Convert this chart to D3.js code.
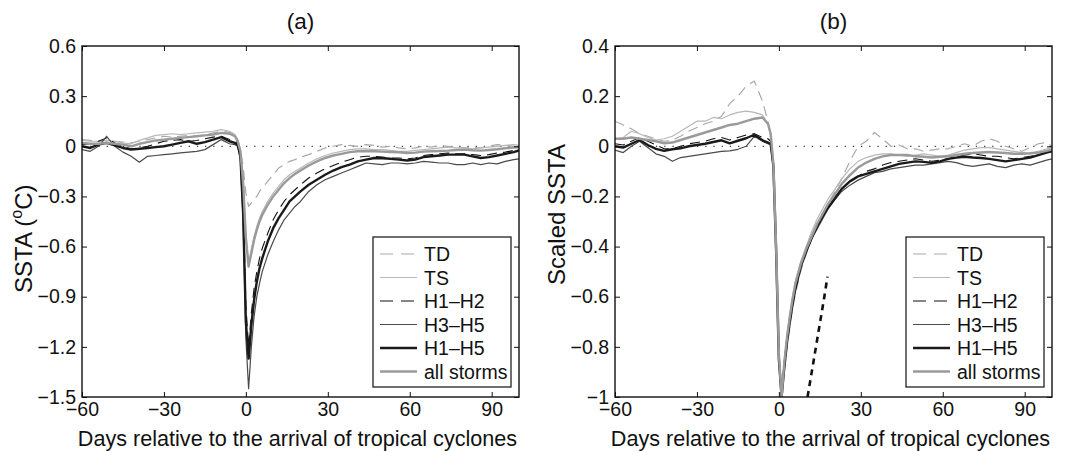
<!DOCTYPE html>
<html>
<head>
<meta charset="utf-8">
<script src="https://cdn.jsdelivr.net/npm/d3@7"></script>
<style>
body { margin: 0; background: #fff; }
svg text { font-family: "Liberation Sans", Arial, Helvetica, sans-serif; fill: #111; }
</style>
</head>
<body>
<svg id="chart" width="1066" height="451"></svg>
<script>
// days relative to storm arrival (shared by every series)
const days = [-60,-57,-54,-51,-48,-45,-42,-39,-36,-33,-30,-27,-24,-21,-18,-15,-12,-9,-6,
  -4,-3,-2,-1,0,1,2,3,4,5,6,
  8,10,12,14,16,18,20,
  23,26,29,32,35,38,41,44,47,50,53,56,59,62,65,68,71,74,77,80,83,86,89,92,95,98,100];

// panel (a): SSTA in degC
const tdA = [0.04,0.035,0.03,0.035,0.03,0.025,0.02,0.03,0.04,0.05,0.06,0.055,0.06,0.065,0.06,0.07,0.08,0.09,0.085,
  0.07,0.04,-0.02,-0.12,-0.28,-0.36,-0.34,-0.32,-0.3,-0.27,-0.25,
  -0.21,-0.17,-0.13,-0.11,-0.09,-0.08,-0.065,
  -0.05,-0.03,-0.01,0.0,0.01,0.005,0.0,0.01,0.005,-0.005,0.0,-0.01,-0.015,-0.01,0.0,-0.005,0.005,0.0,-0.005,-0.01,-0.005,-0.01,0.0,0.01,0.005,0.0,-0.005];
const tsA = [0.035,0.03,0.03,0.035,0.03,0.02,0.015,0.035,0.05,0.065,0.07,0.075,0.07,0.075,0.08,0.085,0.09,0.1,0.09,
  0.07,0.04,-0.02,-0.2,-0.52,-0.7,-0.62,-0.54,-0.48,-0.43,-0.39,
  -0.33,-0.28,-0.24,-0.2,-0.17,-0.15,-0.13,
  -0.1,-0.075,-0.055,-0.04,-0.03,-0.02,-0.015,-0.015,-0.02,-0.02,-0.025,-0.03,-0.03,-0.025,-0.02,-0.015,-0.01,-0.005,-0.01,-0.01,-0.015,-0.01,-0.005,0.0,0.005,0.01,0.005];
const h12A = [0.01,0.015,0.03,0.05,0.02,0.0,-0.015,-0.01,0.0,0.015,0.03,0.035,0.04,0.03,0.035,0.045,0.055,0.06,0.04,
  0.03,0.02,-0.05,-0.35,-0.95,-1.2,-1.0,-0.85,-0.75,-0.67,-0.61,
  -0.52,-0.44,-0.38,-0.33,-0.29,-0.26,-0.23,
  -0.19,-0.16,-0.135,-0.115,-0.095,-0.08,-0.065,-0.06,-0.06,-0.065,-0.07,-0.07,-0.075,-0.07,-0.055,-0.05,-0.045,-0.04,-0.045,-0.045,-0.05,-0.055,-0.05,-0.04,-0.035,-0.025,-0.02];
const h35A = [-0.02,-0.03,0.0,0.06,0.0,-0.035,-0.06,-0.095,-0.06,-0.055,-0.05,-0.045,-0.04,-0.035,-0.03,-0.02,0.01,0.04,0.015,
  0.01,0.0,-0.08,-0.45,-1.15,-1.45,-1.2,-1.02,-0.9,-0.82,-0.75,
  -0.65,-0.57,-0.5,-0.44,-0.4,-0.36,-0.33,
  -0.27,-0.23,-0.2,-0.18,-0.16,-0.14,-0.12,-0.1,-0.105,-0.11,-0.1,-0.1,-0.105,-0.1,-0.09,-0.095,-0.1,-0.1,-0.11,-0.11,-0.1,-0.11,-0.1,-0.105,-0.09,-0.08,-0.075];
const h15A = [0.0,-0.01,0.01,0.02,0.005,-0.01,-0.02,-0.015,-0.01,-0.005,0.0,0.01,0.02,0.03,0.015,0.025,0.04,0.055,0.03,
  0.02,0.01,-0.06,-0.4,-1.05,-1.27,-1.07,-0.92,-0.81,-0.73,-0.67,
  -0.57,-0.49,-0.43,-0.38,-0.33,-0.3,-0.27,
  -0.23,-0.2,-0.17,-0.145,-0.125,-0.11,-0.09,-0.08,-0.07,-0.072,-0.075,-0.08,-0.085,-0.08,-0.065,-0.06,-0.055,-0.05,-0.05,-0.05,-0.06,-0.07,-0.065,-0.055,-0.045,-0.035,-0.025];
const allA = [0.02,0.015,0.015,0.02,0.015,0.01,0.0,0.015,0.025,0.035,0.04,0.045,0.05,0.055,0.06,0.065,0.07,0.08,0.075,
  0.06,0.03,-0.03,-0.22,-0.55,-0.72,-0.64,-0.56,-0.5,-0.45,-0.41,
  -0.35,-0.3,-0.26,-0.22,-0.19,-0.165,-0.145,
  -0.115,-0.09,-0.07,-0.055,-0.045,-0.035,-0.03,-0.028,-0.03,-0.032,-0.034,-0.036,-0.04,-0.038,-0.032,-0.03,-0.028,-0.026,-0.022,-0.02,-0.024,-0.026,-0.022,-0.018,-0.012,-0.008,-0.006];

// panel (b): scaled SSTA
const tdB = [0.1,0.085,0.07,0.05,0.04,0.03,0.02,0.025,0.04,0.06,0.075,0.09,0.1,0.12,0.17,0.2,0.24,0.26,0.18,
  0.1,0.05,-0.08,-0.4,-0.85,-1.0,-0.9,-0.8,-0.72,-0.65,-0.59,
  -0.5,-0.43,-0.37,-0.32,-0.27,-0.23,-0.19,
  -0.13,-0.06,0.0,0.02,0.055,0.03,0.0,0.005,-0.01,-0.01,-0.02,-0.015,-0.01,-0.01,0.0,0.01,0.0,0.02,0.03,0.02,0.0,-0.01,-0.02,-0.005,0.01,0.015,0.0];
const tsB = [0.03,0.035,0.06,0.05,0.035,0.025,0.03,0.04,0.06,0.08,0.1,0.1,0.115,0.11,0.125,0.135,0.14,0.135,0.125,
  0.09,0.04,-0.08,-0.4,-0.82,-1.0,-0.85,-0.75,-0.67,-0.6,-0.54,
  -0.46,-0.4,-0.34,-0.29,-0.25,-0.21,-0.18,
  -0.13,-0.09,-0.06,-0.045,-0.035,-0.03,-0.03,-0.035,-0.04,-0.035,-0.03,-0.035,-0.04,-0.035,-0.025,-0.015,-0.01,-0.005,-0.005,-0.01,-0.015,-0.02,-0.025,-0.03,-0.02,-0.01,-0.005];
const h12B = [0.01,0.005,0.02,0.035,0.02,0.005,-0.01,-0.01,0.0,0.01,0.015,0.02,0.03,0.035,0.025,0.035,0.045,0.05,0.035,
  0.03,0.02,-0.08,-0.42,-0.85,-1.0,-0.88,-0.78,-0.7,-0.63,-0.57,
  -0.48,-0.42,-0.37,-0.32,-0.28,-0.24,-0.21,
  -0.17,-0.14,-0.12,-0.1,-0.09,-0.075,-0.065,-0.06,-0.055,-0.05,-0.055,-0.06,-0.055,-0.05,-0.04,-0.035,-0.03,-0.035,-0.04,-0.04,-0.045,-0.05,-0.045,-0.04,-0.035,-0.02,-0.015];
const h35B = [-0.015,-0.025,0.0,0.02,-0.005,-0.03,-0.04,-0.06,-0.045,-0.04,-0.035,-0.03,-0.025,-0.02,-0.018,-0.012,0.0,0.04,0.02,
  0.01,0.005,-0.09,-0.42,-0.86,-1.0,-0.88,-0.78,-0.7,-0.63,-0.57,
  -0.48,-0.42,-0.37,-0.33,-0.29,-0.25,-0.22,
  -0.18,-0.155,-0.135,-0.12,-0.105,-0.1,-0.09,-0.085,-0.08,-0.075,-0.075,-0.07,-0.065,-0.06,-0.065,-0.075,-0.08,-0.075,-0.07,-0.08,-0.085,-0.075,-0.07,-0.075,-0.065,-0.055,-0.05];
const h15B = [0.0,-0.005,0.01,0.025,0.005,-0.01,-0.018,-0.012,-0.008,0.0,0.005,0.01,0.017,0.024,0.012,0.022,0.032,0.046,0.024,
  0.015,0.01,-0.08,-0.42,-0.85,-1.0,-0.88,-0.78,-0.7,-0.63,-0.57,
  -0.48,-0.42,-0.365,-0.32,-0.28,-0.245,-0.215,
  -0.17,-0.14,-0.12,-0.11,-0.1,-0.09,-0.08,-0.07,-0.065,-0.06,-0.062,-0.066,-0.06,-0.05,-0.045,-0.042,-0.045,-0.047,-0.05,-0.055,-0.06,-0.055,-0.05,-0.045,-0.035,-0.025,-0.02];
const allB = [0.03,0.03,0.035,0.03,0.025,0.02,0.012,0.015,0.025,0.035,0.045,0.055,0.065,0.075,0.085,0.09,0.1,0.11,0.115,
  0.09,0.05,-0.07,-0.4,-0.83,-1.0,-0.86,-0.76,-0.68,-0.61,-0.55,
  -0.47,-0.41,-0.36,-0.31,-0.27,-0.23,-0.2,
  -0.15,-0.115,-0.085,-0.065,-0.05,-0.04,-0.035,-0.035,-0.035,-0.04,-0.042,-0.045,-0.042,-0.04,-0.035,-0.03,-0.027,-0.025,-0.023,-0.025,-0.027,-0.03,-0.03,-0.028,-0.025,-0.018,-0.013];

// short thick dashed segment in panel (b)
const extraDays = [10.5,12.5,14.5,16.5,17.8];
const extraValues = [-1.0,-0.87,-0.74,-0.61,-0.52];

const xTicks = [-60,-30,0,30,60,90];
const yTicksA = [0.6,0.3,0,-0.3,-0.6,-0.9,-1.2,-1.5];
const yTicksB = [0.4,0.2,0,-0.2,-0.4,-0.6,-0.8,-1];
const legendNames = ["TD","TS","H1\u2013H2","H3\u2013H5","H1\u2013H5","all storms"];

const styles = [
  { stroke: "#a9a9a9", width: 1.2, dash: "10,6" },
  { stroke: "#b8b8b8", width: 1.2, dash: null },
  { stroke: "#111", width: 1.1, dash: "10,6" },
  { stroke: "#4a4a4a", width: 1.2, dash: null },
  { stroke: "#1a1a1a", width: 2.4, dash: null },
  { stroke: "#9a9a9a", width: 2.4, dash: null }
];

const panels = [
  { id: "a", left: 82, title: "(a)", yDomain: [-1.5, 0.6], yTicks: yTicksA, labelBottom: 293,
    series: [tdA, tsA, h12A, h35A, h15A, allA] },
  { id: "b", left: 615, title: "(b)", yDomain: [-1, 0.4], yTicks: yTicksB, labelBottom: 285,
    series: [tdB, tsB, h12B, h35B, h15B, allB] }
];

const plotW = 437, plotTop = 46, plotBottom = 397;
const fmt = v => (v < 0 ? "\u2212" : "") + Math.abs(v);

const svg = d3.select("#chart");

panels.forEach(p => {
  const x = d3.scaleLinear().domain([-60, 100]).range([p.left, p.left + plotW]);
  const y = d3.scaleLinear().domain(p.yDomain).range([plotBottom, plotTop]);

  svg.append("clipPath").attr("id", "clip-" + p.id)
    .append("rect").attr("x", p.left).attr("y", plotTop).attr("width", plotW).attr("height", plotBottom - plotTop);

  // zero reference
  svg.append("line")
    .attr("x1", p.left).attr("x2", p.left + plotW)
    .attr("y1", y(0)).attr("y2", y(0))
    .attr("stroke", "#444").attr("stroke-width", 1.3)
    .attr("stroke-dasharray", "1.3,6.9");

  const line = d3.line().x((d, i) => x(days[i])).y(d => y(d));
  const g = svg.append("g").attr("clip-path", `url(#clip-${p.id})`);
  p.series.forEach((vals, i) => {
    const s = styles[i];
    g.append("path").datum(vals)
      .attr("d", line)
      .attr("fill", "none")
      .attr("stroke", s.stroke)
      .attr("stroke-width", s.width)
      .attr("stroke-linejoin", "round")
      .attr("stroke-dasharray", s.dash);
  });

  if (p.id === "b") {
    g.append("path").datum(extraValues)
      .attr("d", d3.line().x((d, i) => x(extraDays[i])).y(d => y(d)))
      .attr("fill", "none").attr("stroke", "#111")
      .attr("stroke-width", 2.6).attr("stroke-dasharray", "6,5");
  }

  // axes with inward ticks on all sides
  const bx = svg.append("g").attr("transform", `translate(0,${plotBottom})`)
    .call(d3.axisBottom(x).tickValues(xTicks).tickSize(-5).tickPadding(5).tickFormat(fmt));
  const tx = svg.append("g").attr("transform", `translate(0,${plotTop})`)
    .call(d3.axisTop(x).tickValues(xTicks).tickSize(-5).tickFormat(""));
  const ly = svg.append("g").attr("transform", `translate(${p.left},0)`)
    .call(d3.axisLeft(y).tickValues(p.yTicks).tickSize(-5).tickPadding(6).tickFormat(fmt));
  const ry = svg.append("g").attr("transform", `translate(${p.left + plotW},0)`)
    .call(d3.axisRight(y).tickValues(p.yTicks).tickSize(-5).tickFormat(""));
  [bx, tx, ly, ry].forEach(a => {
    a.select(".domain").remove();
    a.selectAll("line").attr("stroke", "#111").attr("stroke-width", 1);
    a.selectAll("text").attr("font-size", 19.5).attr("font-family", null).attr("fill", "#111");
  });

  svg.append("rect")
    .attr("x", p.left).attr("y", plotTop).attr("width", plotW).attr("height", plotBottom - plotTop)
    .attr("fill", "none").attr("stroke", "#111").attr("stroke-width", 1.4);

  svg.append("text")
    .attr("x", p.left + plotW / 2).attr("y", 29)
    .attr("text-anchor", "middle").attr("font-size", 22.5)
    .text(p.title);

  svg.append("text")
    .attr("x", p.left + plotW / 2 - 3).attr("y", 446)
    .attr("text-anchor", "middle").attr("font-size", 21.6)
    .text("Days relative to the arrival of tropical cyclones");

  const yl = svg.append("text")
    .attr("transform", `translate(${p.left - 50},${p.labelBottom}) rotate(-90)`)
    .attr("text-anchor", "start").attr("font-size", 24);
  if (p.id === "a") {
    yl.append("tspan").text("SSTA (");
    yl.append("tspan").attr("font-size", 16).attr("dy", -10).text("o");
    yl.append("tspan").attr("dy", 10).text("C)");
  } else {
    yl.text("Scaled SSTA");
  }

  // legend
  const lg = svg.append("g").attr("transform", `translate(${p.left + 291},237)`);
  lg.append("rect").attr("width", 138).attr("height", 150)
    .attr("fill", "#fff").attr("stroke", "#222").attr("stroke-width", 1.3);
  legendNames.forEach((name, i) => {
    const s = styles[i];
    const ry0 = 17 + i * 23.5;
    lg.append("line").attr("x1", 7).attr("x2", 44).attr("y1", ry0).attr("y2", ry0)
      .attr("stroke", s.stroke).attr("stroke-width", s.width)
      .attr("stroke-dasharray", s.dash ? "13,8" : null);
    lg.append("text").attr("x", 51).attr("y", ry0).attr("dy", "0.36em")
      .attr("font-size", 19.5).text(name);
  });
});
</script>
</body>
</html>
